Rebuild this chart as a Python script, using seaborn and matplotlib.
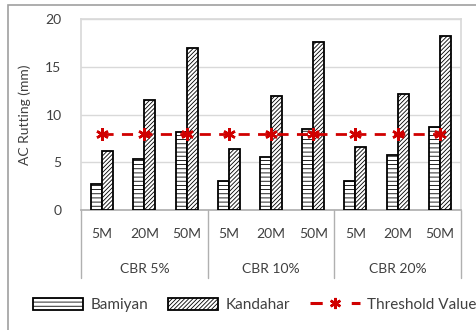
import numpy as np
import pandas as pd
import matplotlib
matplotlib.use("Agg")
import matplotlib.pyplot as plt
import seaborn as sns
from matplotlib.patches import Rectangle
from matplotlib.lines import Line2D

groups = ["CBR 5%", "CBR 10%", "CBR 20%"]
traffic = ["5M", "20M", "50M"]
bamiyan = [2.75, 5.35, 8.2, 3.0, 5.6, 8.45, 3.0, 5.8, 8.7]
kandahar = [6.15, 11.5, 17.0, 6.35, 11.9, 17.6, 6.6, 12.15, 18.25]
threshold = [8, 8, 8, 8, 8, 8, 8, 8, 8]
series = ["Bamiyan", "Kandahar"]

sns.set_theme(style="white")
plt.rcParams["font.family"] = ["Lato", "DejaVu Sans"]
plt.rcParams["hatch.linewidth"] = 0.6
plt.rcParams["hatch.color"] = "black"
txt = "#404040"
red = "#D00000"

cats = [f"{g}|{t}" for g in groups for t in traffic]
df = pd.DataFrame({
    "cat": cats * 2,
    "series": [series[0]] * 9 + [series[1]] * 9,
    "value": bamiyan + kandahar,
})

fig = plt.figure(figsize=(4.77, 3.30), dpi=100)
ax = fig.add_axes([81/477, 1 - 210/330, (461-81)/477, (210-19)/330])

sns.barplot(data=df, x="cat", y="value", hue="series", order=cats,
            hue_order=series, palette=["white", "white"], width=0.52,
            edgecolor="black", linewidth=1.3, legend=False, ax=ax, zorder=3)
hatches = ["----", "////////"]
for cont, h in zip(ax.containers, hatches):
    for p in cont:
        p.set_hatch(h)

pos = np.arange(len(cats))
ax.plot(pos, threshold, color=red, lw=2.0, ls=(0, (4, 3)),
        marker=(6, 2, 0), ms=9, mew=1.8, mec=red, zorder=4)

ax.set_ylim(0, 20)
ax.set_xlim(-0.5, len(cats) - 0.5)
ax.set_yticks([0, 5, 10, 15, 20])
ax.yaxis.grid(True, color="#d9d9d9", lw=1)
ax.set_axisbelow(True)
ax.set_xticks(pos)
ax.set_xticklabels(traffic * 3)
ax.tick_params(axis="both", length=0, labelsize=10, colors=txt)
ax.tick_params(axis="x", pad=13)
ax.tick_params(axis="y", pad=14)
ax.set_xlabel("")
ax.set_ylabel("AC Rutting (mm)", fontsize=10, color=txt, labelpad=10)
for s in ["left", "top", "right"]:
    ax.spines[s].set_color("#d9d9d9")
ax.spines["bottom"].set_color("#b0b0b0")

trans = ax.get_xaxis_transform()
for b in [-0.5, 2.5, 5.5, 8.5]:
    ax.plot([b, b], [0, -0.356], transform=trans, color="#b0b0b0", lw=1,
            clip_on=False)
for i, g in enumerate(groups):
    ax.text(3 * i + 1, -0.31, g, transform=trans, ha="center", va="center",
            fontsize=10, color=txt)

fig.patches.append(Rectangle((8/477, -0.1), 1.2, 1 - 5/330 + 0.1,
                             transform=fig.transFigure, fill=False,
                             edgecolor="#a0a0a0", lw=1.2))

handles = [
    Rectangle((0, 0), 1, 1, facecolor="white", edgecolor="black", hatch="----",
              lw=1.3),
    Rectangle((0, 0), 1, 1, facecolor="white", edgecolor="black", hatch="////////",
              lw=1.3),
    Line2D([], [], color=red, lw=2.2, ls=(0, (4.0, 9.5)), marker=(6, 2, 0),
           ms=8, mew=1.8, markevery=[1]),
]
fig.legend(handles, ["Bamiyan", "Kandahar", "Threshold Value"], ncol=3,
           loc="center left", bbox_to_anchor=(33/477, 1 - 305/330),
           frameon=False, fontsize=11, handlelength=3.3, handleheight=0.8,
           handletextpad=0.45, columnspacing=1.3, labelcolor=txt,
           borderaxespad=0, borderpad=0)

fig.savefig("out.png", dpi=100)
